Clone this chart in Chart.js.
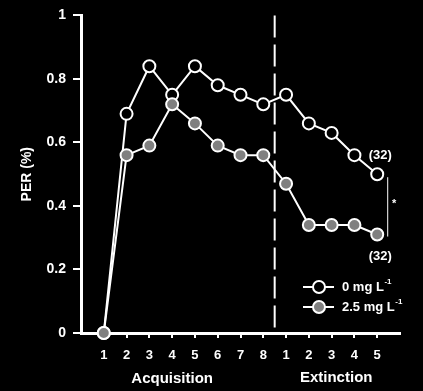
<!DOCTYPE html>
<html>
<head>
<meta charset="utf-8">
<script src="https://cdn.jsdelivr.net/npm/chart.js@4.4.0/dist/chart.umd.min.js"></script>
<style>
  html, body { margin: 0; padding: 0; background: #000; }
  .chart-container { width: 423px; height: 391px; position: relative; }
</style>
</head>
<body>
<div class="chart-container"><canvas id="perChart"></canvas></div>
<script>
// session positions 1..13 (8 acquisition trials, 5 extinction trials)
const sessions = [1, 2, 3, 4, 5, 6, 7, 8, 9, 10, 11, 12, 13];
const tickLabels = ["1", "2", "3", "4", "5", "6", "7", "8", "1", "2", "3", "4", "5"];
const seriesNames = ["0 mg L", "2.5 mg L"];
const control = [0, 0.69, 0.84, 0.75, 0.84, 0.78, 0.75, 0.72, 0.75, 0.66, 0.63, 0.56, 0.5];
const treated = [0, 0.56, 0.59, 0.72, 0.66, 0.59, 0.56, 0.56, 0.47, 0.34, 0.34, 0.34, 0.31];
const phaseNames = ["Acquisition", "Extinction"];
const nLabel = "(32)";

const FONT = '"Liberation Sans", Arial, sans-serif';
const GRAY = "#808080";

function toPoints(vals) {
    return sessions.map((s, i) => ({ x: s, y: vals[i] }));
}

// extra drawing: phase divider, phase titles, n labels, significance bar, legend
const extras = {
    id: "extras",
    afterDatasetsDraw(chart) {
        const c = chart.ctx;
        const xs = chart.scales.x;
        const ys = chart.scales.y;
        const area = chart.chartArea;
        c.save();

        // dashed divider between acquisition and extinction
        const dx = xs.getPixelForValue(8.5);
        c.strokeStyle = "#fff";
        c.lineWidth = 2;
        c.setLineDash([22, 7]);
        c.beginPath();
        c.moveTo(dx, area.top);
        c.lineTo(dx, area.bottom);
        c.stroke();
        c.setLineDash([]);

        c.fillStyle = "#fff";
        c.font = "bold 15px " + FONT;
        c.textAlign = "center";
        c.textBaseline = "middle";
        c.fillText(phaseNames[0], xs.getPixelForValue(4), 379);
        c.fillText(phaseNames[1], xs.getPixelForValue(11.2), 378);

        // n labels next to the last points
        const lastX = xs.getPixelForValue(13);
        const yTop = ys.getPixelForValue(control[12]);
        const yBot = ys.getPixelForValue(treated[12]);
        c.font = "bold 13px " + FONT;
        c.fillText(nLabel, lastX + 3, yTop - 19);
        c.fillText(nLabel, lastX + 3, yBot + 22);

        // significance bar
        c.lineWidth = 1;
        c.beginPath();
        c.moveTo(lastX + 10.5, yTop + 3);
        c.lineTo(lastX + 10.5, yBot + 2);
        c.stroke();
        c.font = "bold 11px " + FONT;
        c.fillText("*", lastX + 17, (yTop + yBot) / 2);

        // legend
        const rows = [
            { name: seriesNames[0], fill: "#000", y: 287 },
            { name: seriesNames[1], fill: GRAY, y: 307 }
        ];
        rows.forEach(r => {
            c.strokeStyle = "#fff";
            c.lineWidth = 2;
            c.beginPath();
            c.moveTo(303, r.y);
            c.lineTo(334, r.y);
            c.stroke();
            c.beginPath();
            c.arc(319, r.y, 6, 0, Math.PI * 2);
            c.fillStyle = r.fill;
            c.fill();
            c.stroke();
            c.fillStyle = "#fff";
            c.textAlign = "left";
            c.font = "bold 13px " + FONT;
            c.fillText(r.name, 342, r.y);
            const w = c.measureText(r.name).width;
            c.font = "bold 8px " + FONT;
            c.fillText("-1", w + 342.5, r.y - 5);
        });
        c.restore();
    }
};

const ctx = document.getElementById("perChart").getContext("2d");
new Chart(ctx, {
    type: "line",
    data: {
        datasets: [{
            label: seriesNames[1],
            data: toPoints(treated),
            borderColor: "#fff",
            borderWidth: 2,
            pointRadius: 6,
            pointBorderWidth: 2,
            pointBackgroundColor: GRAY,
            pointBorderColor: "#fff",
            clip: false,
        }, {
            label: seriesNames[0],
            data: toPoints(control),
            borderColor: "#fff",
            borderWidth: 2,
            pointRadius: 6,
            pointBorderWidth: 2,
            pointBackgroundColor: "#000",
            pointBorderColor: "#fff",
            clip: false,
        }],
    },
    options: {
        responsive: true,
        maintainAspectRatio: false,
        animation: false,
        layout: { padding: { top: 15, right: 23, left: 0, bottom: 0 } },
        plugins: {
            legend: { display: false },
            tooltip: { enabled: false },
        },
        scales: {
            x: {
                type: "linear",
                min: 0,
                max: 14,
                afterFit: s => { s.height = 58; },
                afterBuildTicks: s => {
                    s.ticks = [];
                    for (let v = 0; v <= 14; v++) s.ticks.push({ value: v });
                },
                ticks: {
                    autoSkip: false,
                    maxRotation: 0,
                    padding: 10,
                    color: "#fff",
                    font: { family: FONT, size: 13, weight: "bold" },
                    callback: v => (v >= 1 && v <= 13 ? tickLabels[v - 1] : ""),
                },
                grid: {
                    drawOnChartArea: false,
                    drawTicks: true,
                    tickLength: 5,
                    lineWidth: 2,
                    color: c => (c.tick && c.tick.value >= 2 && c.tick.value <= 13 ? "#fff" : "rgba(0,0,0,0)"),
                },
                border: { display: true, color: "#fff", width: 3 },
            },
            y: {
                min: 0,
                max: 1,
                afterFit: s => { s.width = 81; },
                ticks: {
                    stepSize: 0.2,
                    padding: 7,
                    color: "#fff",
                    font: { family: FONT, size: 14, weight: "bold" },
                    callback: v => (v === 0 ? "0" : Math.abs(v - 1) < 1e-9 ? "1" : v.toFixed(1)),
                },
                grid: {
                    drawOnChartArea: false,
                    drawTicks: true,
                    tickLength: 8,
                    lineWidth: 2,
                    color: "#fff",
                },
                border: { display: true, color: "#fff", width: 3 },
                title: {
                    display: true,
                    text: "PER (%)",
                    color: "#fff",
                    font: { family: FONT, size: 14, weight: "bold" },
                    padding: { top: 19, bottom: 0 },
                },
            },
        },
    },
    plugins: [extras],
});
</script>
</body>
</html>
